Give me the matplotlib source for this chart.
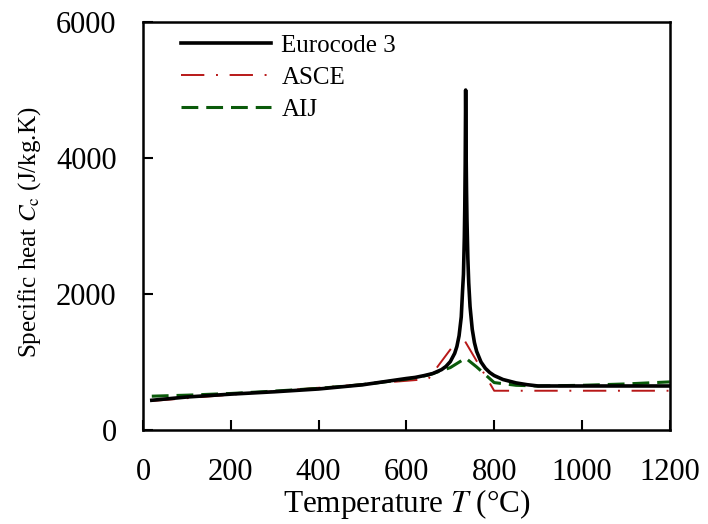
import matplotlib
matplotlib.use("Agg")
import matplotlib.pyplot as plt

# Eurocode 3
ec_T = [20, 100, 200, 300, 400, 500, 600, 620, 640, 660, 680, 690, 700, 710, 715, 720,
        725, 728, 730, 732, 733, 734, 735, 736, 737, 738, 740, 742, 745, 750, 755, 760,
        770, 780, 790, 800, 820, 850, 875, 900, 1000, 1100, 1200]
ec_C = [440, 488, 530, 565, 606, 667, 760, 776, 802, 833, 890, 937, 1008, 1130, 1230, 1388,
        1666, 2057, 2291, 2833, 3266, 3917, 5000, 4109, 3515, 3091, 2525, 2165, 1818, 1483,
        1288, 1159, 1002, 909, 847, 803, 745, 695, 669, 650, 650, 650, 650]

# ASCE
asce_T = [20, 200, 400, 600, 650, 700, 725, 750, 775, 800, 900, 1000, 1100, 1200]
asce_C = [430, 522, 624, 726, 752, 1185, 1401, 1127, 854, 580, 580, 580, 580, 580]

# AIJ
aij_T = [20, 100, 200, 300, 400, 500, 600, 650, 700, 720, 735, 760, 800, 850, 900,
         1000, 1100, 1200]
aij_C = [500, 515, 540, 575, 615, 670, 750, 810, 920, 1000, 1060, 930, 700, 660, 650,
         660, 680, 710]

x_ticks = [0, 200, 400, 600, 800, 1000, 1200]
y_ticks = [0, 2000, 4000, 6000]

plt.rcParams['font.family'] = ['Liberation Serif', 'DejaVu Serif']
plt.rcParams['mathtext.fontset'] = 'stix'

fig = plt.figure(figsize=(7.08, 5.24), dpi=100)
ax = fig.add_axes([0.202, 0.179, 0.744, 0.779])

ax.plot(ec_T, ec_C, color='black', lw=2.6, label='Eurocode 3', zorder=3)
ax.plot(asce_T, asce_C, color='#b81818', lw=1.4, dashes=[12, 6, 1, 6], label='ASCE', zorder=2)
ax.plot(aij_T, aij_C, color='#0a5a0a', lw=2.2, dashes=[5.5, 2.6], label='AIJ', zorder=2)

ax.set_xlim(0, 1200)
ax.set_ylim(0, 6000)
ax.set_xticks(x_ticks)
ax.set_yticks(y_ticks)
ax.tick_params(axis='both', direction='in', length=7, width=1.5, labelsize=22,
               top=False, right=False)
ax.tick_params(axis='x', pad=20)
ax.tick_params(axis='y', pad=19)
for s in ax.spines.values():
    s.set_linewidth(1.8)

ax.set_xlabel('Temperature $T$ (°C)', fontsize=22.5)
ax.set_ylabel('Specific heat $C_{\\rm c}$ (J/kg.K)', fontsize=18)
ax.xaxis.set_label_coords(0.5, -0.14)
ax.yaxis.set_label_coords(-0.19, 0.485)

leg = ax.legend(loc='upper left', bbox_to_anchor=(0.03, 1.025), frameon=False,
                fontsize=18, handlelength=3.6, handletextpad=0.4, labelspacing=0.38)

fig.savefig('out.png', dpi=100)
